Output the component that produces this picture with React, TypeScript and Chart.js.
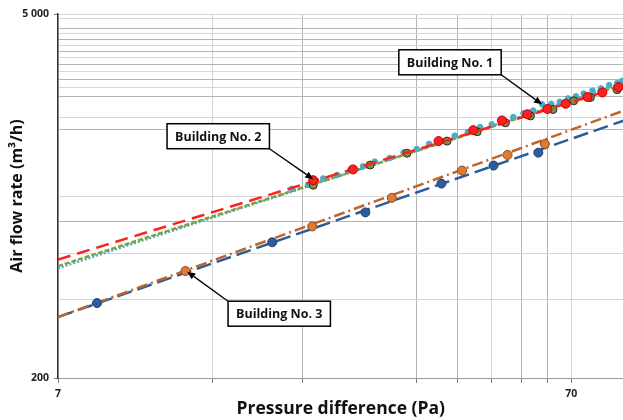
import React, { useEffect, useRef } from "react";
import { Chart, registerables } from "chart.js";
Chart.register(...registerables);

// Axis ranges & grid values (log-log)
const X_MIN = 7;
const X_MAX = 88.5;
const Y_MIN = 200;
const Y_MAX = 5000;
const X_GRID = [7, 14, 21, 35, 42, 49, 56, 63, 70];
const X_LABELED = [7, 70];
const X_DARK = [21, 35, 42, 56, 63];
const Y_GRID = [200, 400, 600, 800, 1000, 1800, 2000, 2400, 2600, 2800, 3000, 3200, 3400, 3600, 3800, 4000, 4200, 4400, 4800, 5000];
const Y_LABELED = [200, 5000];
const Y_DARK = [800, 1800, 2400, 2800, 3200, 3600, 4000, 4400];

// Fitted lines (end points)
const FIT_P = [7, 88.5];
const FIT_B2_RED = [570, 2641];
const FIT_B2_GREEN = [538, 2680];
const FIT_B1_CYAN = [528, 2720];
const FIT_B3_ORANGE = [343, 2126];
const FIT_B3_BLUE = [343, 1946];

// Measured points
const RED_P = [22.0, 26.3, 38.6, 45.1, 51.3, 57.5, 62.9, 68.3, 75.3, 80.5, 86.6];
const RED_V = [1150, 1265, 1625, 1790, 1950, 2060, 2160, 2260, 2400, 2500, 2620];
const GREEN_P = [22.0, 28.4, 33.5, 40.1, 45.9, 52.1, 58.3, 64.5, 70.8, 76.3, 86.0];
const GREEN_V = [1100, 1315, 1460, 1625, 1765, 1910, 2030, 2150, 2320, 2390, 2560];
const CYAN_P = [20, 21.5, 23, 24.5, 26, 27.5, 29, 31, 33, 35, 37, 39, 41.5, 44, 46.5, 49, 51.5, 54, 56.5, 59, 61.4, 64, 66.5, 69, 71.5, 74, 77, 80, 83, 86, 88];
const CYAN_V = [1065, 1105, 1168, 1205, 1262, 1300, 1355, 1400, 1470, 1515, 1585, 1625, 1705, 1760, 1840, 1885, 1960, 2010, 2080, 2130, 2250, 2260, 2300, 2370, 2415, 2475, 2540, 2590, 2665, 2715, 2770];
const ORANGE_P = [12.4, 21.9, 31.3, 42.9, 52.6, 62.2];
const ORANGE_V = [515, 764, 984, 1252, 1438, 1584];
const BLUE_P = [8.34, 18.3, 27.8, 39.1, 49.4, 60.4];
const BLUE_V = [388, 664, 865, 1116, 1309, 1467];

// Callouts
const NOTE_TEXT = ["Building No. 1", "Building No. 2", "Building No. 3"];
const NOTE_TIP_P = [61.4, 22.0, 12.5];
const NOTE_TIP_V = [2250, 1160, 512];

const NOTE_OFFSETS = [
  [-92, -42],
  [-95, -43],
  [92, 42],
];

const FONT = '"Open Sans", Lato, "DejaVu Sans", sans-serif';

const pts = (ps: number[], vs: number[]) => ps.map((p, i) => ({ x: p, y: vs[i] }));

const notesPlugin = {
  id: "notes",
  afterDatasetsDraw(chart: any) {
    const { ctx } = chart;
    const x = chart.scales.x;
    const y = chart.scales.y;
    ctx.save();
    ctx.font = "bold 12.5px " + FONT;
    NOTE_TEXT.forEach((t, i) => {
      const tx = x.getPixelForValue(NOTE_TIP_P[i]);
      const ty = y.getPixelForValue(NOTE_TIP_V[i]);
      const [dx, dy] = NOTE_OFFSETS[i];
      const cx = tx + dx;
      const cy = ty + dy;
      const w = ctx.measureText(t).width + 16;
      const h = 25;
      const bx = cx - w / 2;
      const by = cy - h / 2;
      const sx = tx > cx ? bx + w : bx;
      const sy = ty > cy ? by + h : by;
      const ang = Math.atan2(ty - sy, tx - sx);
      const hl = 8;
      const hw = 3.5;
      const ex = tx - hl * Math.cos(ang);
      const ey = ty - hl * Math.sin(ang);
      ctx.strokeStyle = "#000";
      ctx.fillStyle = "#000";
      ctx.lineWidth = 1.3;
      ctx.beginPath();
      ctx.moveTo(sx, sy);
      ctx.lineTo(ex, ey);
      ctx.stroke();
      ctx.beginPath();
      ctx.moveTo(tx, ty);
      ctx.lineTo(ex - hw * Math.sin(ang), ey + hw * Math.cos(ang));
      ctx.lineTo(ex + hw * Math.sin(ang), ey - hw * Math.cos(ang));
      ctx.closePath();
      ctx.fill();
      ctx.fillStyle = "#fff";
      ctx.fillRect(bx, by, w, h);
      ctx.strokeStyle = "#000";
      ctx.lineWidth = 1.5;
      ctx.strokeRect(bx, by, w, h);
      ctx.fillStyle = "#111";
      ctx.textAlign = "center";
      ctx.textBaseline = "middle";
      ctx.fillText(t, cx, cy + 1);
    });
    ctx.restore();
  },
};

export default function App() {
  const ref = useRef<HTMLCanvasElement>(null);
  useEffect(() => {
    document.body.style.margin = "0";
    document.body.style.overflow = "hidden";
    const canvas = ref.current!;
    const lineDs = (label: string, vals: number[], color: string, dash: number[], order: number) => ({
      type: "line" as const,
      label,
      data: pts(FIT_P, vals),
      borderColor: color,
      borderWidth: 2.5,
      borderDash: dash,
      pointRadius: 0,
      fill: false,
      order,
    });
    const ptDs = (label: string, ps: number[], vs: number[], color: string, border: string, r: number, order: number) => ({
      type: "scatter" as const,
      label,
      data: pts(ps, vs),
      backgroundColor: color,
      borderColor: border,
      borderWidth: 1,
      pointRadius: r,
      order,
    });
    const chart = new Chart(canvas, {
      type: "scatter",
      data: {
        datasets: [
          ptDs("B2 red points", RED_P, RED_V, "#ff1f1f", "#c00000", 4.5, 1),
          lineDs("B2 red fit", FIT_B2_RED, "#ff2020", [13, 7], 2),
          ptDs("B2 green points", GREEN_P, GREEN_V, "#77933c", "#2b2b2b", 4, 3),
          ptDs("B1 cyan points", CYAN_P, CYAN_V, "#4bacc6", "#4bacc6", 2.8, 4),
          lineDs("B2 green fit", FIT_B2_GREEN, "#7fa040", [5, 2], 5),
          lineDs("B1 cyan fit", FIT_B1_CYAN, "#4bacc6", [2, 2], 6),
          ptDs("B3 orange points", ORANGE_P, ORANGE_V, "#e07a30", "#8a4a20", 4.5, 1),
          ptDs("B3 blue points", BLUE_P, BLUE_V, "#2b5d98", "#1f4474", 4.5, 1),
          lineDs("B3 orange fit", FIT_B3_ORANGE, "#c0652a", [11, 4, 2, 4], 7),
          lineDs("B3 blue fit", FIT_B3_BLUE, "#2b5d98", [15, 6], 8),
        ] as any,
      },
      options: {
        animation: false,
        responsive: false,
        devicePixelRatio: 1,
        layout: { padding: { top: 14, right: 0, left: 0, bottom: 0 } },
        plugins: { legend: { display: false }, tooltip: { enabled: false } },
        scales: {
          x: {
            type: "logarithmic",
            min: X_MIN,
            max: X_MAX,
            afterBuildTicks: (s: any) => {
              s.ticks = X_GRID.map((v) => ({ value: v }));
            },
            afterFit: (s: any) => {
              s.height = 42;
              s.paddingLeft = 0;
              s.paddingRight = 0;
            },
            ticks: {
              autoSkip: false,
              maxRotation: 0,
              padding: 5,
              color: "#222",
              font: { family: FONT, size: 10.5, weight: "bold" },
              callback: (v: any) => (X_LABELED.includes(Number(v)) ? String(v) : ""),
            },
            grid: {
              color: (c: any) => (X_DARK.includes(c.tick?.value) ? "#b4b4b4" : "#d6d6d6"),
              tickColor: "#7a7a7a",
              tickLength: 5,
              lineWidth: 1,
            },
            border: { color: "#9a9a9a", width: 1 },
            title: {
              display: true,
              text: "Pressure difference (Pa)",
              color: "#111",
              font: { family: FONT, size: 17.5, weight: "bold" },
              padding: { top: 0, bottom: 0 },
            },
          },
          y: {
            type: "logarithmic",
            min: Y_MIN,
            max: Y_MAX,
            afterBuildTicks: (s: any) => {
              s.ticks = Y_GRID.map((v) => ({ value: v }));
            },
            afterFit: (s: any) => {
              s.width = 58;
              s.paddingTop = 0;
              s.paddingBottom = 0;
            },
            ticks: {
              autoSkip: false,
              padding: 5,
              color: "#222",
              font: { family: FONT, size: 10.5, weight: "bold" },
              callback: (v: any) =>
                Y_LABELED.includes(Number(v)) ? Number(v).toLocaleString("en-US").replace(",", " ") : "",
            },
            grid: {
              color: (c: any) => (Y_DARK.includes(c.tick?.value) ? "#b4b4b4" : "#d6d6d6"),
              tickColor: (c: any) => (Y_LABELED.includes(c.tick?.value) ? "#7a7a7a" : "rgba(0,0,0,0)"),
              tickLength: 4,
              lineWidth: 1,
            },
            border: { color: "#333", width: 1.5 },
            title: {
              display: true,
              text: "Air flow rate (m³/h)",
              color: "#111",
              font: { family: FONT, size: 16, weight: "bold" },
              padding: { top: 8, bottom: 0 },
            },
          },
        },
      } as any,
      plugins: [notesPlugin],
    });
    return () => chart.destroy();
  }, []);
  return (
    <div style={{ width: 623, height: 420, overflow: "hidden" }}>
      <canvas ref={ref} width={629} height={420} style={{ display: "block", width: 629, height: 420 }} />
    </div>
  );
}
